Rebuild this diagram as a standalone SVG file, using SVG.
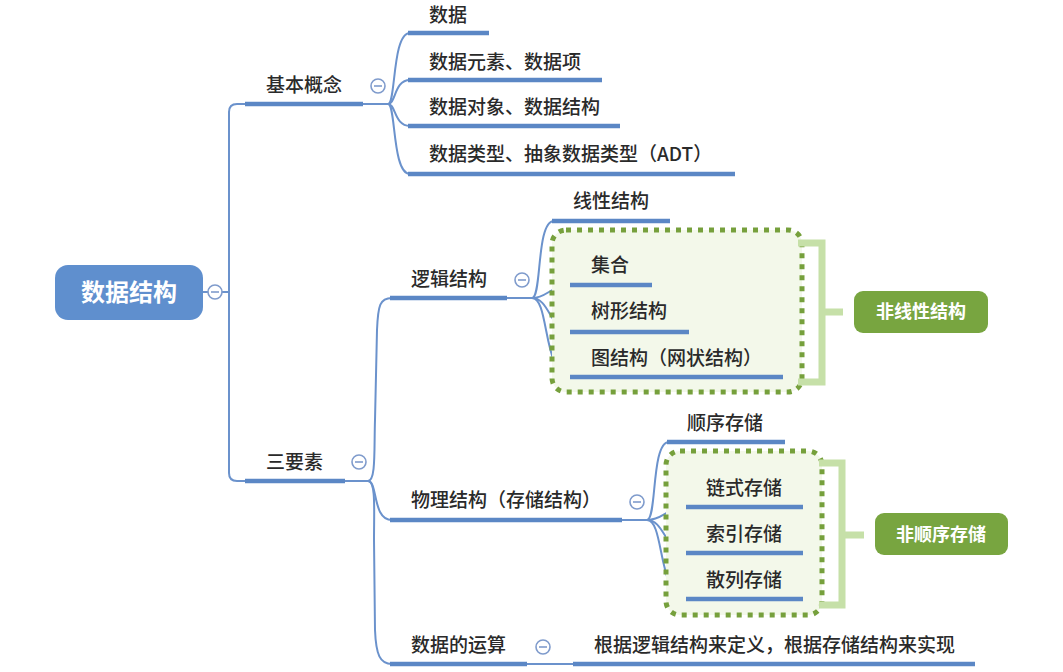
<svg xmlns="http://www.w3.org/2000/svg" width="1063" height="672" viewBox="0 0 1063 672">
<style>
.t{font-family:"Noto Sans CJK SC","Noto Sans",sans-serif;font-size:19px;font-weight:500;fill:#2a2a2a}
.ul{stroke:#5b87c5;stroke-width:4.5;stroke-linecap:butt;fill:none}
.c{stroke:#6b92cc;stroke-width:2;fill:none}
.btn{fill:#fff;stroke:#7f9bcc;stroke-width:1.6}
.minus{stroke:#7f9bcc;stroke-width:1.6}
.grp{fill:#f3f8ea;stroke:#76a03c;stroke-width:5;stroke-dasharray:5 6}
.br{stroke:#c6e0a8;stroke-width:7;fill:none}
.sum{fill:#78a540}
.st{font-family:"Noto Sans CJK SC","Noto Sans",sans-serif;font-size:18px;font-weight:bold;fill:#fff}
</style>
<rect width="1063" height="672" fill="#fff"/>
<g id="connectors">
  <path class="c" d="M203,292 L229,292"/>
  <path class="c" d="M245,104 L237,104 Q229,104 229,112 L229,473 Q229,481 237,481 L245,481"/>
  <path class="c" d="M363,104 L388,104"/>
  <path class="c" d="M388,104 C396,104 392,33 410,33"/>
  <path class="c" d="M388,104 C396,104 394,80 410,80"/>
  <path class="c" d="M388,104 C396,104 394,126 410,126"/>
  <path class="c" d="M388,104 C396,104 392,174 410,174"/>
  <path class="c" d="M345,481 L368,481"/>
  <path class="c" d="M368,481 C376,481 374,450 375,420 L377,330 C378,305 380,298 392,298"/>
  <path class="c" d="M368,481 C378,481 372,520 392,520"/>
  <path class="c" d="M368,481 C376,481 374,510 374,540 L375,630 C376,655 380,664 392,664"/>
  <path class="c" d="M507,298 L532,298"/>
  <path class="c" d="M532,298 C542,298 536,221 554,221"/>
  <path class="c" d="M532,298 C548,298 550,285 572,285"/>
  <path class="c" d="M532,298 C550,298 550,332 572,332"/>
  <path class="c" d="M532,298 C550,298 542,377 572,377"/>
  <path class="c" d="M622,520 L647,520"/>
  <path class="c" d="M647,520 C657,520 651,442 669,442"/>
  <path class="c" d="M647,520 C664,520 666,507 688,507"/>
  <path class="c" d="M647,520 C665,520 665,553 688,553"/>
  <path class="c" d="M647,520 C665,520 657,599 688,599"/>
  <path class="c" d="M527,664 L573,664"/>
</g>
<g id="root">
  <rect x="55" y="265" width="148" height="55" rx="13" fill="#5f8fce"/>
  <text x="129" y="301" text-anchor="middle" style="font-family:'Noto Sans CJK SC','Noto Sans',sans-serif;font-size:24px;font-weight:bold;fill:#fff">数据结构</text>
  <circle class="btn" cx="215" cy="292" r="7"/><path class="minus" d="M211,292 H219"/>
</g>
<g id="n-basic">
  <path class="ul" d="M245,104 H363"/>
  <text class="t" x="266" y="92">基本概念</text>
  <circle class="btn" cx="378" cy="86" r="7"/><path class="minus" d="M374,86 H382"/>
</g>
<g id="n-data"><path class="ul" d="M408,33 H489"/><text class="t" x="429" y="22">数据</text></g>
<g id="n-elem"><path class="ul" d="M408,80 H602"/><text class="t" x="429" y="69">数据元素、数据项</text></g>
<g id="n-obj"><path class="ul" d="M408,126 H620"/><text class="t" x="429" y="114">数据对象、数据结构</text></g>
<g id="n-type"><path class="ul" d="M408,174 H735"/><text class="t" x="429" y="161">数据类型、抽象数据类型（ADT）</text></g>
<g id="n-three">
  <path class="ul" d="M245,481 H345"/>
  <text class="t" x="266" y="469">三要素</text>
  <circle class="btn" cx="359" cy="462" r="7"/><path class="minus" d="M355,462 H363"/>
</g>
<g id="n-logic">
  <path class="ul" d="M390,298 H507"/>
  <text class="t" x="411" y="286">逻辑结构</text>
  <circle class="btn" cx="522" cy="280" r="7"/><path class="minus" d="M518,280 H526"/>
</g>
<g id="n-linear"><path class="ul" d="M552,221 H670"/><text class="t" x="573" y="208">线性结构</text></g>
<g id="g-nonlinear">
  <rect class="grp" x="552" y="230" width="250" height="162" rx="14"/>
  <path class="br" d="M798,243 H822 V382 H798 M822,312 H843"/>
</g>
<g id="n-set"><path class="ul" d="M570,285 H652"/><text class="t" x="591" y="272">集合</text></g>
<g id="n-tree"><path class="ul" d="M570,332 H689"/><text class="t" x="591" y="318">树形结构</text></g>
<g id="n-graph"><path class="ul" d="M570,377 H783"/><text class="t" x="591" y="365">图结构（网状结构）</text></g>
<g id="s-nonlinear">
  <rect class="sum" x="854" y="291" width="134" height="42" rx="9"/>
  <text class="st" x="921" y="318" text-anchor="middle">非线性结构</text>
</g>
<g id="n-phys">
  <path class="ul" d="M390,520 H622"/>
  <text class="t" x="411" y="507">物理结构（存储结构）</text>
  <circle class="btn" cx="637" cy="502" r="7"/><path class="minus" d="M633,502 H641"/>
</g>
<g id="n-seq"><path class="ul" d="M667,442 H785"/><text class="t" x="687" y="430">顺序存储</text></g>
<g id="g-nonseq">
  <rect class="grp" x="666" y="451" width="156" height="164" rx="14"/>
  <path class="br" d="M819,463 H842 V605 H819 M842,535 H864"/>
</g>
<g id="n-chain"><path class="ul" d="M686,507 H803"/><text class="t" x="706" y="495">链式存储</text></g>
<g id="n-index"><path class="ul" d="M686,553 H803"/><text class="t" x="706" y="541">索引存储</text></g>
<g id="n-hash"><path class="ul" d="M686,599 H803"/><text class="t" x="706" y="587">散列存储</text></g>
<g id="s-nonseq">
  <rect class="sum" x="875" y="513" width="133" height="42" rx="9"/>
  <text class="st" x="941" y="541" text-anchor="middle">非顺序存储</text>
</g>
<g id="n-ops">
  <path class="ul" d="M390,664 H527"/>
  <text class="t" x="411" y="652">数据的运算</text>
  <circle class="btn" cx="543" cy="647" r="7"/><path class="minus" d="M539,647 H547"/>
</g>
<g id="n-opsdesc"><path class="ul" d="M573,664 H975"/><text class="t" x="594" y="652">根据逻辑结构来定义，根据存储结构来实现</text></g>
</svg>
